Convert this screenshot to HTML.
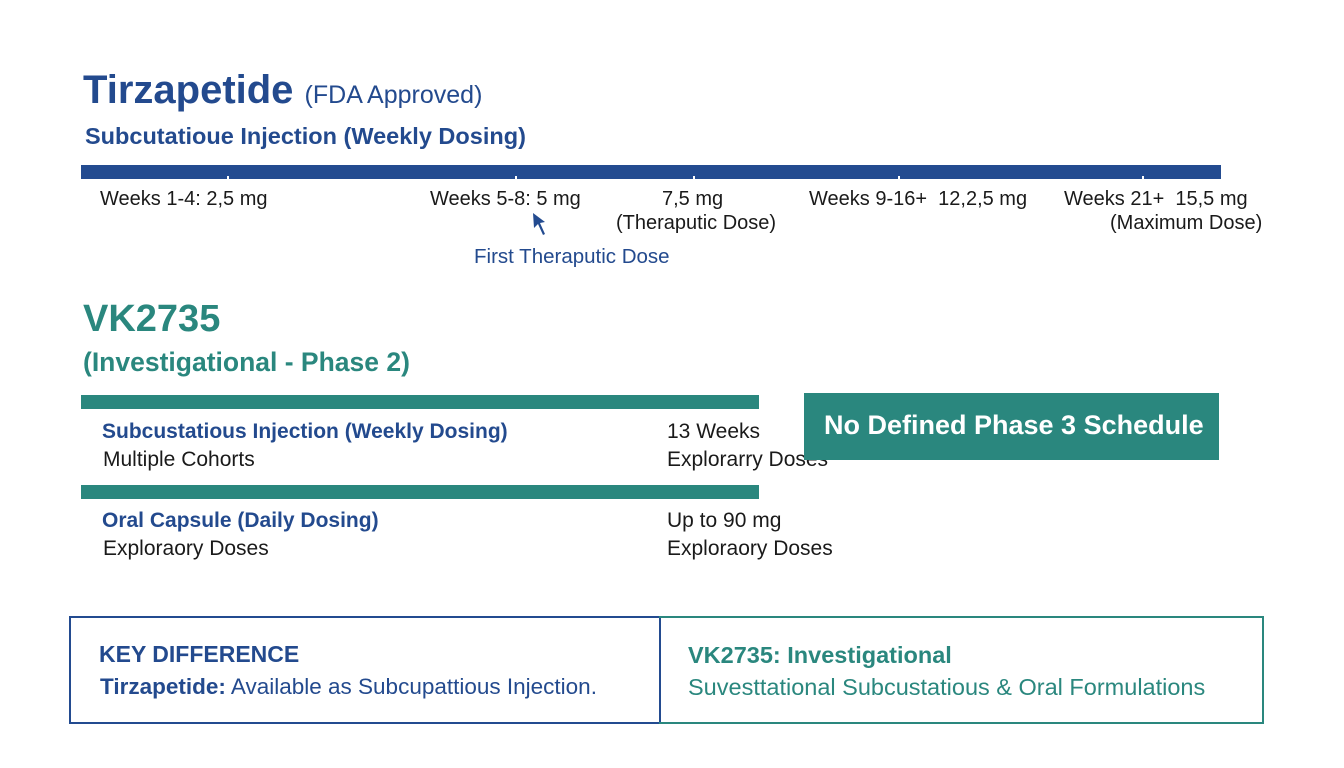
<!DOCTYPE html>
<html><head><meta charset="utf-8"><style>
body{margin:0;width:1344px;height:768px;background:#fff;position:relative;overflow:hidden;font-family:"Liberation Sans",sans-serif;}
div,span{position:absolute;white-space:nowrap;}
.b{color:#234a8e}.t{color:#2a877e}.k{color:#1a1a1a}
</style></head><body>
<div class="b" style="left:83px;top:68px;font-size:40px;font-weight:bold;">Tirzapetide <span style="position:static;font-size:25px;font-weight:normal;">(FDA Approved)</span></div>
<div class="b" style="left:85px;top:123px;font-size:23.5px;font-weight:bold;">Subcutatioue Injection (Weekly Dosing)</div>
<div style="left:81px;top:165px;width:1140px;height:14px;background:#234b90;"></div>
<div style="left:227px;top:176px;width:2px;height:4px;background:#fff"></div>
<div style="left:515px;top:176px;width:2px;height:4px;background:#fff"></div>
<div style="left:693px;top:176px;width:2px;height:4px;background:#fff"></div>
<div style="left:898px;top:176px;width:2px;height:4px;background:#fff"></div>
<div style="left:1142px;top:176px;width:2px;height:4px;background:#fff"></div>
<div class="k" style="left:100px;top:188px;font-size:20px;">Weeks 1-4: 2,5 mg</div>
<div class="k" style="left:430px;top:188px;font-size:20px;">Weeks 5-8: 5 mg</div>
<div class="k" style="left:662px;top:188px;font-size:20px;">7,5 mg</div>
<div class="k" style="left:616px;top:212px;font-size:20px;">(Theraputic Dose)</div>
<div class="k" style="left:809px;top:188px;font-size:20px;">Weeks 9-16+&nbsp;&nbsp;12,2,5 mg</div>
<div class="k" style="left:1064px;top:188px;font-size:20px;">Weeks 21+&nbsp;&nbsp;15,5 mg</div>
<div class="k" style="left:1110px;top:212px;font-size:20px;">(Maximum Dose)</div>
<svg style="position:absolute;left:528px;top:210px" width="24" height="30"><path d="M5 3 L6 18 L10 14 L15 25 L17 24 L12 13 L17 12 Z" fill="#234b90"/></svg>
<div class="b" style="left:474px;top:245px;font-size:20.5px;">First Theraputic Dose</div>
<div class="t" style="left:83px;top:298px;font-size:38px;font-weight:bold;">VK2735</div>
<div class="t" style="left:83px;top:347px;font-size:26.5px;font-weight:bold;">(Investigational - Phase 2)</div>
<div style="left:81px;top:395px;width:678px;height:14px;background:#2a877e;"></div>
<div style="left:81px;top:485px;width:678px;height:14px;background:#2a877e;"></div>
<div class="b" style="left:102px;top:420px;font-size:21px;font-weight:bold;">Subcustatious Injection (Weekly Dosing)</div>
<div class="k" style="left:103px;top:448px;font-size:21px;">Multiple Cohorts</div>
<div class="k" style="left:667px;top:420px;font-size:21px;">13 Weeks</div>
<div class="k" style="left:667px;top:448px;font-size:21px;">Explorarry Doses</div>
<div class="b" style="left:102px;top:509px;font-size:21px;font-weight:bold;">Oral Capsule (Daily Dosing)</div>
<div class="k" style="left:103px;top:537px;font-size:21px;">Exploraory Doses</div>
<div class="k" style="left:667px;top:509px;font-size:21px;">Up to 90 mg</div>
<div class="k" style="left:667px;top:537px;font-size:21px;">Exploraory Doses</div>
<div style="left:804px;top:393px;width:415px;height:67px;background:#2a877e;"></div>
<div style="left:824px;top:410px;font-size:27px;font-weight:bold;color:#fff;">No Defined Phase 3 Schedule</div>
<div style="left:69px;top:616px;width:588px;height:104px;border:2px solid #234b90;"></div>
<div style="left:659px;top:616px;width:603px;height:104px;border:2px solid #2a877e;border-left:none;"></div>
<div class="b" style="left:99px;top:641px;font-size:23px;font-weight:bold;">KEY DIFFERENCE</div>
<div class="b" style="left:100px;top:674px;font-size:22.5px;"><b>Tirzapetide:</b> Available as Subcupattious Injection.</div>
<div class="t" style="left:688px;top:642px;font-size:23.5px;font-weight:bold;">VK2735: Investigational</div>
<div class="t" style="left:688px;top:674px;font-size:23.5px;">Suvesttational Subcustatious &amp; Oral Formulations</div>
</body></html>
